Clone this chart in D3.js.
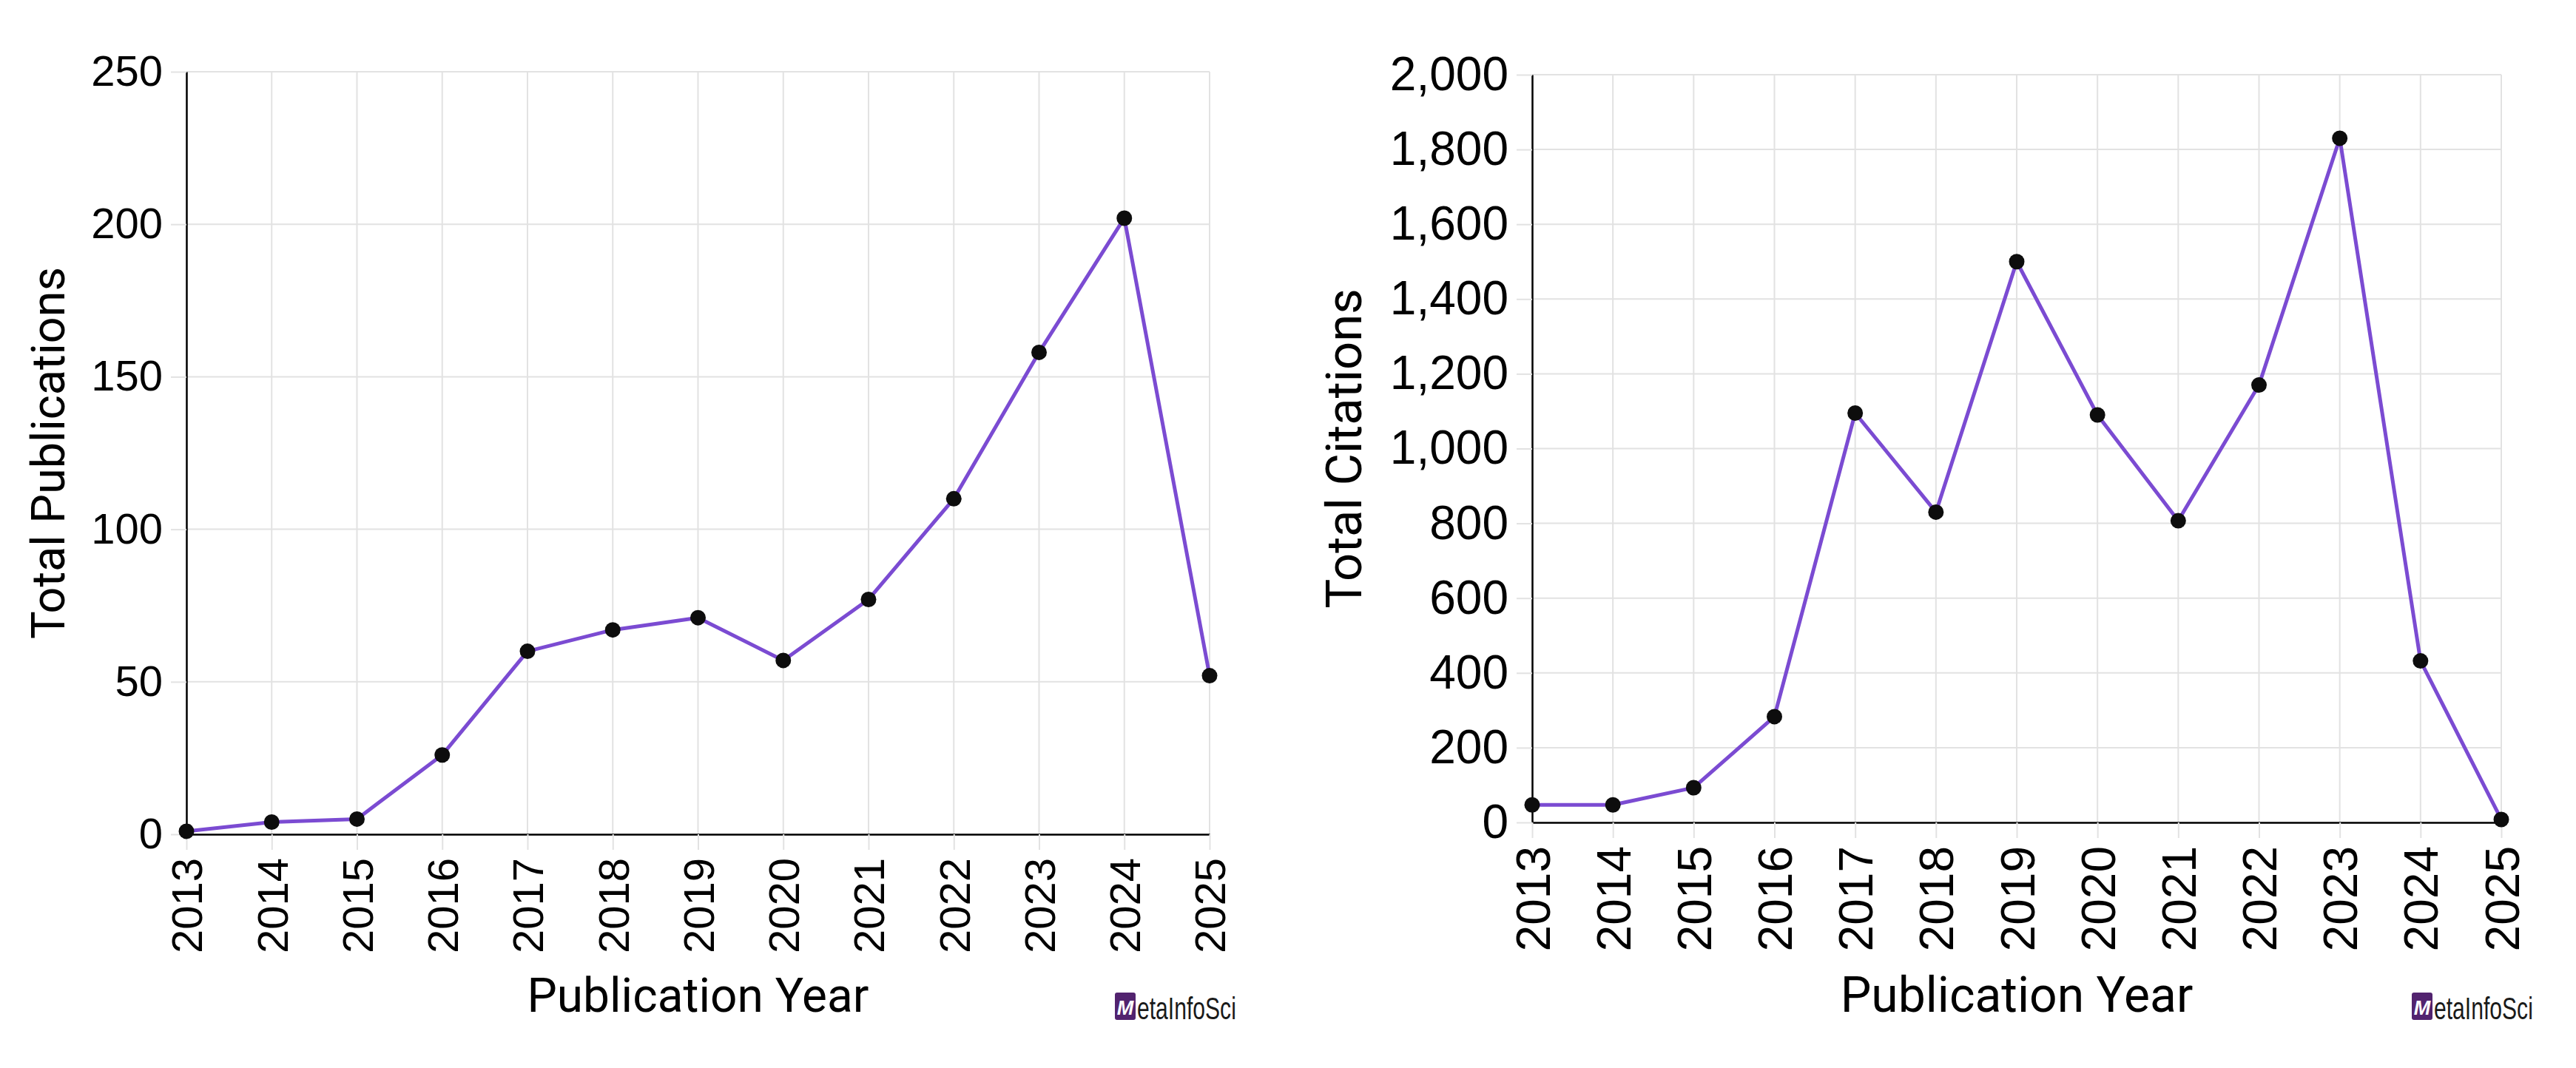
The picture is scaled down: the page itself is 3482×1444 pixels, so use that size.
<!DOCTYPE html>
<html lang="en">
<head>
  <meta charset="UTF-8">
  <title>Publications and Citations</title>
  <style>
    html, body { margin: 0; padding: 0; background: #fff; }
    svg { display: block; }
  </style>
</head>
<body>
  <svg id="chart" width="3482" height="1444"></svg>

  <script src="https://d3js.org/d3.v7.min.js"></script>
  <script>
    // data
    const years = [2013, 2014, 2015, 2016, 2017, 2018, 2019, 2020, 2021, 2022, 2023, 2024, 2025];
    const publications = [1, 4, 5, 26, 60, 67, 71, 57, 77, 110, 158, 202, 52];
    const citations = [47, 47, 93, 283, 1095, 830, 1500, 1090, 807, 1170, 1830, 432, 8];
    const pubTicks = [0, 50, 100, 150, 200, 250];
    const citTicks = [0, 200, 400, 600, 800, 1000, 1200, 1400, 1600, 1800, 2000];

    const svg = d3.select('#chart');
    svg.append('rect').attr('width', 3482).attr('height', 1444).attr('fill', '#fff');

    const lineColor = '#7b4bd2';
    const gridColor = '#e2e2e2';
    const tickLen = 21;
    const tickPad = 11;

    function drawChart(cfg) {
      const x = d3.scaleLinear().domain([years[0], years[years.length - 1]]).range([cfg.left, cfg.right]);
      const y = d3.scaleLinear().domain([0, cfg.ticks[cfg.ticks.length - 1]]).range([cfg.bottom, cfg.top]);
      const g = svg.append('g');

      // grid
      g.append('g').selectAll('line.h')
        .data(cfg.ticks)
        .enter().append('line')
        .attr('x1', cfg.left).attr('x2', cfg.right)
        .attr('y1', d => y(d)).attr('y2', d => y(d))
        .attr('stroke', gridColor).attr('stroke-width', 2);

      g.append('g').selectAll('line.v')
        .data(years)
        .enter().append('line')
        .attr('x1', d => x(d)).attr('x2', d => x(d))
        .attr('y1', cfg.top).attr('y2', cfg.bottom)
        .attr('stroke', gridColor).attr('stroke-width', 2);

      // y axis
      const yAxis = g.append('g')
        .attr('transform', `translate(${cfg.left},0)`)
        .call(d3.axisLeft(y).tickValues(cfg.ticks).tickFormat(cfg.fmt).tickSize(tickLen).tickSizeOuter(0).tickPadding(tickPad));
      yAxis.selectAll('.tick line').attr('stroke', gridColor).attr('stroke-width', 2);
      yAxis.selectAll('.tick text')
        .attr('fill', '#000')
        .style('font-family', '"Liberation Sans", Arial, sans-serif')
        .style('font-size', cfg.tickSize + 'px');
      yAxis.select('.domain').attr('stroke', '#000').attr('stroke-width', 2.5);

      // x axis
      const xAxis = g.append('g')
        .attr('transform', `translate(0,${cfg.bottom})`)
        .call(d3.axisBottom(x).tickValues(years).tickFormat(d3.format('d')).tickSize(tickLen).tickSizeOuter(0));
      xAxis.selectAll('.tick line').attr('stroke', gridColor).attr('stroke-width', 2);
      xAxis.selectAll('.tick text')
        .attr('y', 0)
        .attr('x', -(tickLen + tickPad))
        .attr('dy', '0.36em')
        .attr('transform', 'rotate(-90)')
        .attr('fill', '#000')
        .style('text-anchor', 'end')
        .style('font-family', '"Liberation Sans", Arial, sans-serif')
        .style('font-size', cfg.tickSize + 'px');
      xAxis.select('.domain').attr('stroke', '#000').attr('stroke-width', 2.5);

      // series
      const line = d3.line()
        .x((d, i) => x(years[i]))
        .y(d => y(d));

      g.append('path')
        .datum(cfg.values)
        .attr('d', line)
        .attr('fill', 'none')
        .attr('stroke', lineColor)
        .attr('stroke-width', 5)
        .attr('stroke-linejoin', 'round');

      g.append('g').selectAll('circle')
        .data(cfg.values)
        .enter().append('circle')
        .attr('cx', (d, i) => x(years[i]))
        .attr('cy', d => y(d))
        .attr('r', 10.5)
        .attr('fill', '#0d0d0d');

      // axis titles
      g.append('text')
        .attr('x', (cfg.left + cfg.right) / 2)
        .attr('y', 1368)
        .attr('text-anchor', 'middle')
        .style('font-family', 'Roboto, "Liberation Sans", sans-serif')
        .style('font-size', cfg.xTitleSize + 'px')
        .text('Publication Year');

      g.append('text')
        .attr('transform', `translate(${cfg.yTitleX},${(cfg.top + cfg.bottom) / 2}) rotate(-90)`)
        .attr('text-anchor', 'middle')
        .style('font-family', 'Roboto, "Liberation Sans", sans-serif')
        .style('font-size', cfg.yTitleSize + 'px')
        .text(cfg.yTitle);

      drawLogo(cfg.logoX, 1342);
    }

    // small MetaInfoSci watermark
    function drawLogo(lx, ly) {
      const lg = svg.append('g').attr('transform', `translate(${lx},${ly})`);
      lg.append('rect')
        .attr('width', 28).attr('height', 37).attr('rx', 3)
        .attr('fill', '#52236f');
      lg.append('text')
        .attr('x', 14).attr('y', 30)
        .attr('text-anchor', 'middle')
        .attr('fill', '#fff')
        .style('font-family', '"Liberation Sans", sans-serif')
        .style('font-style', 'italic')
        .style('font-weight', 'bold')
        .style('font-size', '27px')
        .text('M');
      lg.append('text')
        .attr('transform', 'translate(30,36) scale(0.7,1)')
        .attr('fill', '#1a1a1a')
        .style('font-family', '"Liberation Sans", sans-serif')
        .style('font-size', '43px')
        .text('etaInfoSci');
    }

    drawChart({
      left: 252, right: 1635, top: 97, bottom: 1128,
      values: publications, ticks: pubTicks, fmt: d3.format('d'),
      tickSize: 58, xTitleSize: 64, yTitleSize: 63,
      yTitle: 'Total Publications', yTitleX: 87, logoX: 1507
    });

    drawChart({
      left: 2071, right: 3381, top: 101, bottom: 1112,
      values: citations, ticks: citTicks, fmt: d3.format(','),
      tickSize: 64, xTitleSize: 66, yTitleSize: 67,
      yTitle: 'Total Citations', yTitleX: 1840, logoX: 3260
    });
  </script>
</body>
</html>
